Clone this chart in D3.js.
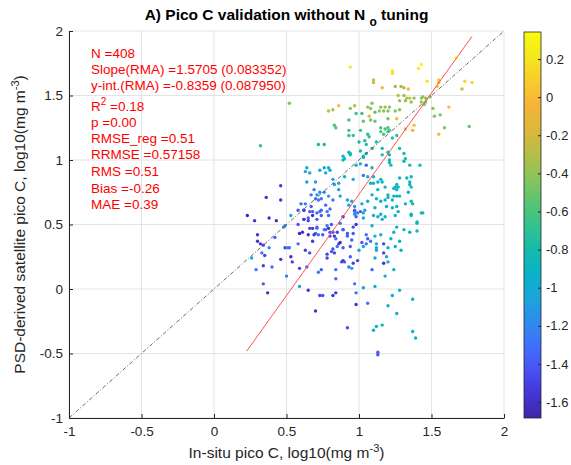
<!DOCTYPE html>
<html>
<head>
<meta charset="utf-8">
<script src="https://cdn.jsdelivr.net/npm/d3@7"></script>
<style>
  body { margin: 0; background: #fff; }
  svg { font-family: Arial, "Liberation Sans", Helvetica, sans-serif; }
</style>
</head>
<body>
<div id="container"></div>
<script>
// matchups: [in-situ log10 pico C, satellite log10 pico C, colour value]
const upperPoints = [
  [0.94,1.72,0.25],[1.23,1.69,0.2],[1.23,1.67,0.18],[1.41,1.71,0.25],[1.43,1.74,0.3],[1.67,1.79,0.3],
  [1.10,1.62,-0.2],[1.10,1.60,-0.25],[1.16,1.56,-0.05],[1.25,1.57,-0.4],[1.29,1.57,-0.4],[1.31,1.56,-0.3],[1.34,1.55,0.0],
  [1.47,1.61,0.2],[1.55,1.62,0.05],[1.55,1.60,0.0],[1.54,1.57,0.1],[1.73,1.61,0.15],[1.78,1.60,0.1],[1.71,1.55,-0.25],
  [1.27,1.50,-0.3],[1.31,1.50,-0.35],[1.33,1.48,-0.3],[1.35,1.48,-0.25],[1.28,1.46,-0.35],[1.32,1.46,-0.4],[1.36,1.45,-0.4],
  [1.38,1.48,-0.4],[1.43,1.48,-0.4],[1.44,1.49,-0.4],[1.46,1.48,-0.45],[1.49,1.49,-0.4],[1.43,1.45,-0.4],[1.46,1.45,-0.45],[1.45,1.43,-0.45],
  [1.51,1.40,-0.45],[1.62,1.41,0.0],[1.52,1.34,-0.45],[1.56,1.35,-0.5],
  [0.79,1.38,-0.3],[0.82,1.39,-0.35],[0.86,1.42,0.0],[0.94,1.40,-0.45],[0.97,1.42,-0.35],[1.06,1.41,-0.4],[1.09,1.44,-0.45],[1.08,1.40,-0.45],
  [1.15,1.41,-0.45],[1.18,1.41,-0.4],[1.21,1.41,-0.45],[1.14,1.38,-0.35],[1.17,1.38,-0.45],[1.20,1.38,-0.45],
  [0.98,1.36,-0.65],[1.02,1.36,-0.65],[1.07,1.34,-0.1],[1.11,1.37,-0.5],[1.25,1.38,-0.45],[1.28,1.39,-0.45],[1.26,1.32,0.0],[1.20,1.32,-0.5],
  [0.93,1.31,-0.6],[1.03,1.30,-0.55],[1.08,1.31,-0.5],[1.11,1.30,-0.5],[0.83,1.27,-0.6],[0.84,1.25,-0.6],[0.93,1.23,-0.65],[1.01,1.23,-0.65],
  [1.15,1.25,-0.6],[1.18,1.24,-0.6],[1.20,1.25,-0.6],[1.21,1.23,-0.6],[1.15,1.22,-0.6],[1.17,1.20,-0.6],[1.20,1.22,-0.65],
  [1.38,1.27,0.0],[1.37,1.23,-0.05],[1.32,1.24,-0.05],[1.55,1.20,0.0],[1.59,1.25,-0.45],[1.76,1.26,-0.5],
  [0.93,1.19,-0.7],[0.96,1.19,-0.7],[1.06,1.20,-0.7],[1.07,1.18,-0.7],[1.23,1.17,-0.75],[1.26,1.19,-0.7],
  [0.52,1.44,-0.45],[0.32,1.11,-0.7]
];

const middlePoints = [
  [0.72,1.12,-0.8],[0.76,1.12,-0.8],[1.00,1.14,-0.8],[1.04,1.15,-0.8],[1.05,1.12,-0.8],[0.93,1.06,-0.85],[0.94,1.04,-0.85],
  [1.01,1.07,-0.85],[1.03,1.03,-0.85],[1.09,1.09,-0.8],[1.12,1.14,-0.8],[1.16,1.09,-0.8],[1.16,1.04,-0.85],[1.20,1.06,-0.85],
  [1.21,1.04,-0.85],[1.21,0.98,-0.9],[1.28,1.09,-0.8],[1.31,0.99,-0.85],[0.89,1.03,-0.9],[0.90,1.01,-0.9],
  [0.89,1.00,-0.85],[0.94,1.05,-0.85],[1.01,0.97,-0.9],[1.03,1.02,-0.85],[1.05,1.05,-0.85],[0.98,0.96,-0.95],
  [0.64,0.94,-1.0],[0.63,0.91,-1.0],[0.66,0.90,-1.05],[0.76,0.94,-1.0],[0.79,0.94,-1.0],[0.80,0.92,-1.0],[0.77,0.90,-1.05],[0.73,0.92,-1.0],
  [0.90,0.87,-1.0],[0.82,0.85,-1.05],[0.83,0.81,-1.1],[0.86,0.82,-1.05],[0.70,0.83,-1.1],[0.64,0.83,-1.1],
  [0.69,0.77,-1.3],[0.71,0.73,-1.15],[0.74,0.70,-1.3],[0.76,0.75,-1.15],[0.79,0.72,-1.15],[0.82,0.69,-1.3],[0.87,0.72,-1.1],
  [0.46,0.80,-1.55],[0.36,0.71,-1.6],[0.46,0.69,-1.55],[0.60,0.66,-1.35],[0.63,0.66,-1.3],
  [0.92,0.69,-1.1],[0.95,0.68,-1.05],[0.93,0.65,-1.1],[1.04,0.61,-1.0],
  [1.08,0.82,-0.95],[1.10,0.87,-0.9],[1.09,0.94,-0.9],[1.15,0.85,-0.9],[1.13,0.77,-0.95],[1.18,0.79,-0.9],
  [1.21,1.00,-0.85],[1.22,0.96,-0.85],[1.25,0.79,-0.9],[1.26,0.77,-0.9],[1.27,0.79,-0.9],[1.20,0.71,-0.9],[1.23,0.69,-0.9],
  [1.24,0.72,-0.9],[1.19,0.64,-0.95],[1.23,0.63,-0.95],[1.11,0.63,-0.95],
  [1.31,1.05,-0.8],[1.32,1.01,-0.8],[1.35,0.96,-0.85],[1.42,0.96,-0.85],[1.36,0.87,-0.85],[1.35,0.83,-0.85],[1.36,0.79,-0.85],
  [1.34,0.75,-0.9],[1.28,0.86,-0.9],[1.28,0.72,-0.9],[1.32,0.66,-0.9],[1.37,0.66,-0.85],[1.26,0.64,-0.9],
  [1.05,0.96,-1.4],[1.03,0.88,-1.3],[1.06,0.87,-1.0],[0.96,0.85,-1.0],
  [0.86,0.77,-1.1],[0.97,0.64,-1.15],[1.02,0.66,-1.0],[1.06,0.68,-1.0],[1.09,0.73,-0.95],[1.12,0.70,-0.95],[1.15,0.68,-0.95],
  [1.18,0.69,-0.9],[1.20,0.73,-0.9],[1.26,0.72,-0.9],[1.36,0.68,-0.85],[1.10,0.82,-0.95],[1.13,0.83,-0.95],[1.16,0.83,-0.95],
  [1.24,0.78,-0.9],[1.26,0.81,-0.9],[1.35,0.81,-0.9],[1.33,0.86,-0.85],
  [0.73,0.75,-1.15],[0.70,0.70,-1.3],[0.67,0.73,-1.3],[0.77,0.65,-1.3],[0.72,0.69,-1.3],
  [0.58,0.61,-1.4],[0.62,0.61,-1.45],[0.67,0.64,-1.4],[0.74,0.61,-1.35],[0.80,0.62,-1.3]
];

const lowerPoints = [
  [0.62,0.54,-1.45],[0.65,0.55,-1.4],[0.68,0.60,-1.4],[0.71,0.59,-1.35],[0.71,0.48,-1.45],[0.77,0.46,-1.4],[0.80,0.44,-1.4],
  [0.87,0.51,-1.3],[0.89,0.46,-1.4],[0.92,0.41,-1.4],[0.97,0.60,-1.3],[0.97,0.58,-1.15],[0.98,0.56,-1.4],[1.10,0.57,-1.0],
  [1.15,0.58,-0.95],[1.16,0.54,-1.0],[1.36,0.58,-0.9],[1.40,0.51,-0.85],[1.43,0.59,-0.85],[1.25,0.57,-0.95],
  [0.62,0.61,-1.5],[0.66,0.60,-1.4],[0.73,0.60,-1.3],[0.74,0.57,-1.4],[0.78,0.60,-1.3],[0.79,0.57,-1.35],
  [0.62,0.54,-1.55],[0.65,0.53,-1.5],[0.68,0.57,-1.6],[0.71,0.54,-1.4],
  [0.97,0.61,-1.4],[0.99,0.59,-1.3],[1.01,0.60,-1.4],[1.03,0.59,-1.0],[1.03,0.55,-0.95],
  [1.13,0.56,-0.95],[1.18,0.56,-0.95],[1.27,0.60,-0.9],[1.36,0.57,-0.9],[1.44,0.59,-0.85],[1.40,0.52,-0.9],
  [0.89,0.56,-1.6],
  [1.09,0.49,-0.95],[1.26,0.48,-0.9],[1.31,0.46,-0.9],[1.35,0.44,-0.95],[1.40,0.45,-0.85],
  [0.59,0.43,-1.65],[0.61,0.44,-1.6],[0.66,0.47,-1.5],[0.68,0.47,-1.55],[0.71,0.47,-1.3],[0.70,0.43,-1.4],[0.69,0.42,-1.55],
  [0.72,0.42,-1.3],[0.75,0.42,-1.4],[0.76,0.46,-1.3],[0.78,0.49,-1.3],[0.81,0.50,-1.4],[0.79,0.47,-1.6],
  [0.65,0.42,-1.6],[0.68,0.37,-1.55],
  [0.82,0.44,-1.4],[0.83,0.41,-1.6],[0.80,0.41,-1.5],[0.85,0.44,-1.5],[0.89,0.46,-1.4],[0.92,0.43,-1.4],[0.96,0.48,-1.5],
  [0.96,0.43,-1.4],[0.98,0.50,-1.6],
  [1.05,0.42,-1.3],[1.11,0.41,-1.0],[1.15,0.42,-1.0],[1.22,0.39,-0.95],[1.24,0.44,-1.0],[1.28,0.37,-0.95],
  [1.02,0.36,-1.4],[1.03,0.33,-1.1],[1.06,0.39,-1.4],[1.05,0.35,-1.35],[1.08,0.37,-1.3],[1.12,0.35,-1.0],[1.12,0.32,-1.0],
  [1.12,0.30,-1.05],[1.17,0.35,-1.5],[1.20,0.32,-1.0],[1.25,0.33,-1.0],[1.29,0.30,-0.95],
  [0.63,0.30,-1.5],[0.66,0.28,-1.45],[0.78,0.27,-1.5],[0.81,0.29,-1.4],[0.82,0.31,-1.45],[0.83,0.28,-1.5],[0.86,0.35,-1.5],
  [0.87,0.36,-1.6],[0.89,0.32,-1.4],[0.85,0.33,-1.3],[0.84,0.39,-1.3],
  [0.94,0.33,-1.4],[0.95,0.38,-1.4],[1.00,0.30,-1.1],
  [1.17,0.28,-1.5],[1.19,0.25,-1.1],[1.20,0.21,-1.1],[1.17,0.20,-1.6],[1.24,0.15,-0.95],
  [1.11,0.24,-1.0],[1.09,0.15,-1.4],[0.78,0.24,-1.5],
  [0.88,0.21,-1.4],[0.89,0.22,-1.6],[0.90,0.21,-1.4],[0.94,0.25,-1.4],[0.93,0.17,-1.3],[0.96,0.20,-1.5],[0.95,0.16,-1.1],[0.99,0.22,-1.5],
  [0.59,0.16,-1.5],[0.74,0.15,-1.4],[0.72,0.13,-1.3],[0.64,0.17,-1.4],
  [0.84,0.15,-1.3],[0.84,0.08,-1.3],[1.18,0.10,-0.95],
  [0.97,0.04,-1.3],[1.03,0.01,-1.1],[1.11,0.02,-1.0],
  [0.65,-0.01,-1.55],[0.73,-0.05,-1.5],[0.75,-0.05,-1.45],[0.82,-0.05,-1.55],[0.84,-0.03,-1.55],
  [0.98,-0.03,-1.3],[0.98,-0.12,-1.6],
  [1.06,-0.11,-1.3],[1.20,-0.13,-0.95],[1.23,-0.05,-0.95],[1.28,-0.01,-0.85],[1.37,-0.08,-0.9],
  [0.70,-0.17,-1.6],[1.26,-0.19,-0.9],
  [0.92,-0.30,-1.45],[1.10,-0.32,-0.95],[1.12,-0.29,-0.95],[1.16,-0.28,-0.9],
  [1.37,-0.33,-0.9],[1.39,-0.38,-0.9],
  [1.13,-0.49,-1.4],[1.13,-0.51,-1.45],
  [0.23,0.57,-1.65],[0.28,0.53,-1.6],[0.38,0.55,-1.6],[0.43,0.53,-1.6],[0.53,0.57,-1.0],[0.48,0.48,-1.3],[0.49,0.49,-1.1],
  [0.58,0.50,-1.4],[0.30,0.42,-1.6],[0.30,0.37,-1.6],[0.32,0.35,-1.55],[0.34,0.34,-1.5],[0.38,0.32,-1.15],[0.42,0.40,-1.4],
  [0.33,0.28,-1.3],[0.35,0.26,-1.5],[0.49,0.32,-1.5],[0.51,0.32,-1.3],[0.52,0.32,-1.3],[0.58,0.35,-1.3],[0.26,0.24,-0.95],
  [0.53,0.25,-1.6],[0.54,0.21,-1.5],[0.46,0.23,-1.6],[0.29,0.15,-1.3],[0.34,0.18,-1.5],[0.40,0.17,-1.3],[0.50,0.10,-1.3],
  [0.59,0.02,-1.0],[0.34,0.04,-1.4],[0.37,-0.03,-1.6]
];

const axisTicks = [-1, -0.5, 0, 0.5, 1, 1.5, 2];
const colorTicks = [-1.6, -1.4, -1.2, -1, -0.8, -0.6, -0.4, -0.2, 0, 0.2];
const colorRange = [-1.684, 0.342];

// RMA fit, drawn over the in-situ range
const rmaSlope = 1.5705, rmaIntercept = -0.8359;
const fitRange = [0.2255, 1.779];

const statLines = [
  "N =408",
  "Slope(RMA) =1.5705 (0.083352)",
  "y-int.(RMA) =-0.8359 (0.087950)",
  "R2 =0.18",
  "p =0.00",
  "RMSE_reg =0.51",
  "RRMSE =0.57158",
  "RMS =0.51",
  "Bias =-0.26",
  "MAE =0.39"
];

// parula, sampled
const parulaStops = [
  "#3e26a8", "#4435d5", "#4852f4", "#3f70fd", "#2d8ced", "#1ba5dd",
  "#07b3c6", "#16bbac", "#35c28f", "#5bc571", "#8bc459", "#b9bd46",
  "#dbb83a", "#f8b33a", "#f7cd2c", "#f4e81e", "#f9fb0e"
];

const W = 571, H = 465;
const plot = {left: 69, right: 504, top: 31, bottom: 418};
const ink = "#262626";

const svg = d3.select("#container").append("svg")
  .attr("width", W).attr("height", H);

const x = d3.scaleLinear().domain([-1, 2]).range([plot.left, plot.right]);
const y = d3.scaleLinear().domain([-1, 2]).range([plot.bottom, plot.top]);

const color = d3.scaleLinear()
  .domain(parulaStops.map((_, i) => colorRange[0] + (colorRange[1] - colorRange[0]) * i / (parulaStops.length - 1)))
  .range(parulaStops)
  .interpolate(d3.interpolateRgb)
  .clamp(true);

// grid
const grid = svg.append("g").attr("stroke", "#e4e4e4").attr("stroke-width", 1);
axisTicks.forEach(t => {
  grid.append("line").attr("x1", x(t)).attr("x2", x(t)).attr("y1", plot.top).attr("y2", plot.bottom);
  grid.append("line").attr("y1", y(t)).attr("y2", y(t)).attr("x1", plot.left).attr("x2", plot.right);
});

// points
const allPoints = [...upperPoints, ...middlePoints, ...lowerPoints];
svg.append("g").selectAll("circle")
  .data(allPoints)
  .join("circle")
  .attr("cx", d => x(d[0]))
  .attr("cy", d => y(d[1]))
  .attr("r", 1.7)
  .attr("fill", d => color(d[2]));

// 1:1 line
svg.append("line")
  .attr("x1", x(-1)).attr("y1", y(-1)).attr("x2", x(2)).attr("y2", y(2))
  .attr("stroke", "#444").attr("stroke-width", 0.8)
  .attr("stroke-dasharray", "4,2,1,2");

// RMA line
svg.append("line")
  .attr("x1", x(fitRange[0])).attr("y1", y(rmaIntercept + rmaSlope * fitRange[0]))
  .attr("x2", x(fitRange[1])).attr("y2", y(rmaIntercept + rmaSlope * fitRange[1]))
  .attr("stroke", "#ff5252").attr("stroke-width", 1);

// axes
const fmt = d => String(d);
const tickFont = "13.5px";
const xAxis = svg.append("g")
  .attr("transform", `translate(0,${plot.bottom})`)
  .call(d3.axisBottom(x).tickValues(axisTicks).tickFormat(fmt).tickSizeInner(-4).tickSizeOuter(0).tickPadding(8));
const yAxis = svg.append("g")
  .attr("transform", `translate(${plot.left},0)`)
  .call(d3.axisLeft(y).tickValues(axisTicks).tickFormat(fmt).tickSizeInner(-4).tickSizeOuter(0).tickPadding(6));
[xAxis, yAxis].forEach(a => {
  a.select(".domain").attr("stroke", ink);
  a.selectAll(".tick line").attr("stroke", ink);
  a.selectAll("text").attr("fill", ink).style("font-size", tickFont).style("font-family", "Arial, 'Liberation Sans', sans-serif");
});

// stats text
const lineY = [58, 74, 90, 111, 127, 143, 159, 176, 193, 209];
statLines.forEach((s, i) => {
  const t = svg.append("text").attr("x", plot.left + 22).attr("y", lineY[i])
    .attr("fill", "#ff0000").style("font-size", "13.5px");
  if (s.startsWith("R2")) {
    t.append("tspan").text("R");
    t.append("tspan").attr("dy", -6).style("font-size", "10px").text("2");
    t.append("tspan").attr("dy", 6).text(" =0.18");
  } else {
    t.text(s);
  }
});

// title
const title = svg.append("text")
  .attr("x", (plot.left + plot.right) / 2).attr("y", 20)
  .attr("text-anchor", "middle")
  .attr("fill", "#000").style("font-size", "15.5px").style("font-weight", "bold");
title.append("tspan").text("A) Pico C validation without N ");
title.append("tspan").attr("dy", 6).style("font-size", "12px").text("o");
title.append("tspan").attr("dy", -6).text(" tuning");

// axis labels
const xl = svg.append("text")
  .attr("x", (plot.left + plot.right) / 2).attr("y", 458)
  .attr("text-anchor", "middle").attr("fill", ink).style("font-size", "15.5px");
xl.append("tspan").text("In-situ pico C, log10(mg m");
xl.append("tspan").attr("dy", -6).style("font-size", "11px").text("-3");
xl.append("tspan").attr("dy", 6).text(")");

const yl = svg.append("text")
  .attr("transform", `translate(25,${(plot.top + plot.bottom) / 2}) rotate(-90)`)
  .attr("text-anchor", "middle").attr("fill", ink).style("font-size", "15.5px");
yl.append("tspan").text("PSD-derived satellite pico C, log10(mg m");
yl.append("tspan").attr("dy", -6).style("font-size", "11px").text("-3");
yl.append("tspan").attr("dy", 6).text(")");

// colorbar
const cb = {left: 524, width: 17, top: 32, bottom: 418};
const cy = d3.scaleLinear().domain(colorRange).range([cb.bottom, cb.top]);
const grad = svg.append("defs").append("linearGradient")
  .attr("id", "parula").attr("x1", 0).attr("y1", 1).attr("x2", 0).attr("y2", 0);
d3.range(0, 1.0001, 0.02).forEach(t => {
  grad.append("stop").attr("offset", t)
    .attr("stop-color", color(colorRange[0] + t * (colorRange[1] - colorRange[0])));
});
svg.append("rect")
  .attr("x", cb.left).attr("y", cb.top)
  .attr("width", cb.width).attr("height", cb.bottom - cb.top)
  .attr("fill", "url(#parula)").attr("stroke", ink).attr("stroke-width", 0.8);
const cAxis = svg.append("g")
  .attr("transform", `translate(${cb.left + cb.width},0)`)
  .call(d3.axisRight(cy).tickValues(colorTicks).tickFormat(fmt).tickSizeInner(-3).tickSizeOuter(0).tickPadding(5));
cAxis.select(".domain").remove();
cAxis.selectAll(".tick line").attr("stroke", ink);
cAxis.selectAll("text").attr("fill", ink).style("font-size", "13px").style("font-family", "Arial, 'Liberation Sans', sans-serif");
</script>
</body>
</html>
